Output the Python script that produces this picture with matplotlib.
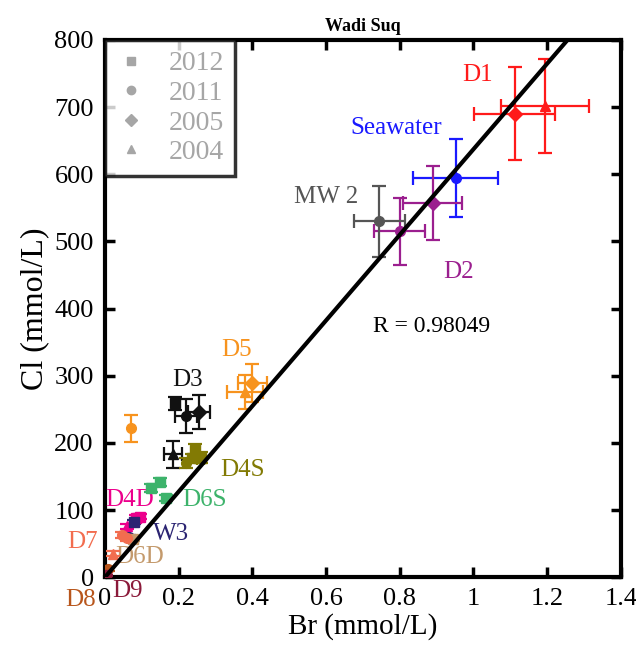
import numpy as np
import matplotlib.pyplot as plt

plt.rcParams['font.family'] = ['Liberation Serif', 'DejaVu Serif']

# sample groups: x, y, xerr, yerr and marker per point
d1_x = [1.112, 1.195]; d1_y = [690, 702]; d1_xe = [0.11, 0.12]; d1_ye = [69, 70]
d1_m = ['D', '^']
sw_x = [0.952]; sw_y = [595]; sw_xe = [0.115]; sw_ye = [58]; sw_m = ['o']
d2_x = [0.80, 0.89]; d2_y = [515, 557]; d2_xe = [0.07, 0.08]; d2_ye = [50, 55]
d2_m = ['o', 'D']
mw_x = [0.745]; mw_y = [530]; mw_xe = [0.07]; mw_ye = [53]; mw_m = ['o']
d5_x = [0.38, 0.40, 0.07]; d5_y = [276, 289, 222]; d5_xe = [0.05, 0.04, 0.0]
d5_ye = [25, 28, 20]; d5_m = ['^', 'D', 'o']
d3_x = [0.19, 0.22, 0.255, 0.185]; d3_y = [259, 240, 246, 183]
d3_xe = [0.0, 0.03, 0.03, 0.025]; d3_ye = [10, 25, 25, 20]; d3_m = ['s', 'o', 'D', '^']
d4s_x = [0.22, 0.235, 0.245, 0.26]; d4s_y = [170, 178, 190, 178]
d4s_xe = [0.0, 0.0, 0.01, 0.01]; d4s_ye = [8, 6, 8, 8]; d4s_m = ['o', 's', 's', 's']
d6s_x = [0.125, 0.15, 0.165]; d6s_y = [133, 142, 118]
d6s_xe = [0, 0, 0]; d6s_ye = [6, 6, 4]; d6s_m = ['s', 's', 's']
d4d_x = [0.06, 0.085, 0.095]; d4d_y = [76, 88, 90]
d4d_xe = [0, 0, 0]; d4d_ye = [4, 4, 4]; d4d_m = ['^', 's', 's']
d7_x = [0.045, 0.06, 0.022]; d7_y = [63, 58, 35]
d7_xe = [0, 0, 0]; d7_ye = [4, 4, 4]; d7_m = ['o', 'o', '^']
w3_x = [0.08, 0.065]; w3_y = [82, 60]; w3_xe = [0, 0]; w3_ye = [3, 3]; w3_m = ['s', 'o']
d6d_x = [0.075]; d6d_y = [57]; d6d_xe = [0]; d6d_ye = [3]; d6d_m = ['s']
d8_x = [0.008]; d8_y = [12]; d8_xe = [0]; d8_ye = [2]; d8_m = ['o']
d9_x = [0.004]; d9_y = [3]; d9_xe = [0]; d9_ye = [1]; d9_m = ['s']

groups = [
    ('D1', '#ff1a1a', d1_x, d1_y, d1_xe, d1_ye, d1_m, 1.01, 748),
    ('Seawater', '#1a1aff', sw_x, sw_y, sw_xe, sw_ye, sw_m, 0.79, 669),
    ('D2', '#9b1f8f', d2_x, d2_y, d2_xe, d2_ye, d2_m, 0.96, 455),
    ('MW 2', '#555555', mw_x, mw_y, mw_xe, mw_ye, mw_m, 0.60, 566),
    ('D5', '#f7931e', d5_x, d5_y, d5_xe, d5_ye, d5_m, 0.358, 338),
    ('D3', '#111111', d3_x, d3_y, d3_xe, d3_ye, d3_m, 0.225, 293),
    ('D4S', '#827a04', d4s_x, d4s_y, d4s_xe, d4s_ye, d4s_m, 0.374, 160),
    ('D6S', '#3db36b', d6s_x, d6s_y, d6s_xe, d6s_ye, d6s_m, 0.27, 115),
    ('D4D', '#ec008c', d4d_x, d4d_y, d4d_xe, d4d_ye, d4d_m, 0.068, 115),
    ('W3', '#2b2472', w3_x, w3_y, w3_xe, w3_ye, w3_m, 0.18, 64),
    ('D6D', '#c49a6c', d6d_x, d6d_y, d6d_xe, d6d_ye, d6d_m, 0.095, 30),
    ('D7', '#f26d4f', d7_x, d7_y, d7_xe, d7_ye, d7_m, -0.06, 52),
    ('D8', '#b8561c', d8_x, d8_y, d8_xe, d8_ye, d8_m, -0.066, -34),
    ('D9', '#8b1a3a', d9_x, d9_y, d9_xe, d9_ye, d9_m, 0.062, -20),
]

fit_x = [0.0, 1.4]
slope = 637.0

fig = plt.figure(figsize=(6.36, 6.53), dpi=100)
ax = fig.add_axes([0.165, 0.116, 0.811, 0.823])

for name, col, xs, ys, xe, ye, ms, tx, ty in groups:
    for x, y, a, b, m in zip(xs, ys, xe, ye, ms):
        ax.errorbar(x, y, xerr=a if a > 0 else None, yerr=b if b > 0 else None,
                    fmt=m, color=col, ms=7, elinewidth=1.6, capsize=5, capthick=1.6, zorder=3)
    ax.text(tx, ty, name, color=col, fontsize=18, ha='center', va='center', clip_on=False)

ax.plot(fit_x, [slope * v for v in fit_x], color='black', lw=3, zorder=4)
ax.text(0.887, 374, 'R = 0.98049', fontsize=17, ha='center', va='center')

# legend (grey markers)
leg_m = ['s', 'o', 'D', '^']
leg_lab = ['2012', '2011', '2005', '2004']
handles = [ax.plot([], [], m, color='#a6a6a6', ms=6, ls='none')[0] for m in leg_m]
leg = ax.legend(handles, leg_lab, loc='upper left', fontsize=20, frameon=True,
                fancybox=False, borderaxespad=0, handletextpad=0.8, labelspacing=0.15,
                borderpad=0.4, handlelength=1.1)
leg.get_frame().set_edgecolor('black')
leg.get_frame().set_linewidth(2.5)
for t in leg.get_texts():
    t.set_color('#a6a6a6')

ax.set_xlim(0, 1.4)
ax.set_ylim(0, 800)
ax.set_xticks(np.arange(0, 1.41, 0.2))
ax.set_xticklabels(['0', '0.2', '0.4', '0.6', '0.8', '1', '1.2', '1.4'])
ax.set_yticks(np.arange(0, 801, 100))
ax.tick_params(direction='in', top=True, right=True, length=7, width=2.5, labelsize=19, pad=8)
for s in ax.spines.values():
    s.set_linewidth(3)
ax.set_xlabel('Br (mmol/L)', fontsize=21, labelpad=2)
ax.set_ylabel('Cl (mmol/L)', fontsize=23, labelpad=4)
ax.set_title('Wadi Suq', fontsize=13, fontweight='bold', pad=6)

fig.savefig('out.png', dpi=100)
